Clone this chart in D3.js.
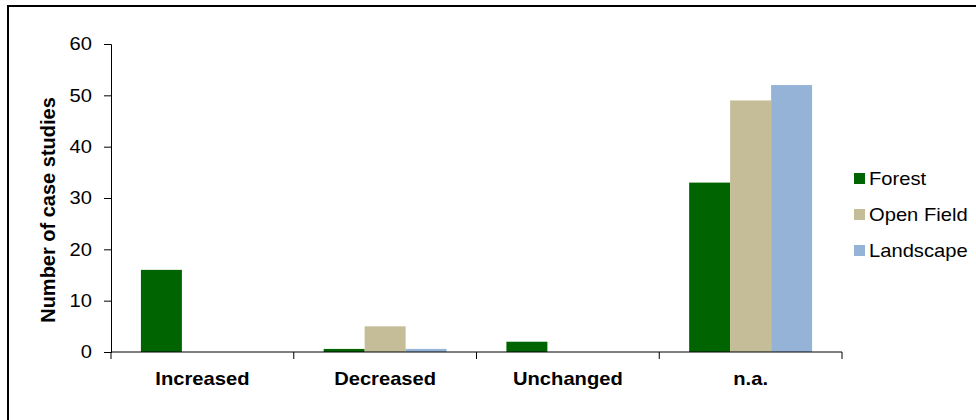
<!DOCTYPE html>
<html>
<head>
<meta charset="utf-8">
<script src="https://cdn.jsdelivr.net/npm/d3@7"></script>
<style>
  html, body { margin: 0; padding: 0; background: #fff; }
  svg { display: block; }
  text { font-family: Arial, "Liberation Sans", sans-serif; fill: #000; }
</style>
</head>
<body>
<svg id="chart" width="976" height="420"></svg>
<script>
// Outcome categories and case-study counts per setting
const categories = ["Increased", "Decreased", "Unchanged", "n.a."];
const seriesNames = ["Forest", "Open Field", "Landscape"];
const forest = [16, 0.6, 2, 33];
const openField = [0, 5, 0, 49];
const landscape = [0, 0.6, 0, 52];
const yTicks = [0, 10, 20, 30, 40, 50, 60];
const colors = ["#006400", "#C4BD97", "#95B3D7"];

const seriesValues = [forest, openField, landscape];

const svg = d3.select("#chart");
const W = 976, H = 420;
const plot = { left: 111, right: 842, top: 44, bottom: 352 };
const stretch = 1.12; // horizontal widening of text glyphs

// frame
svg.append("path")
  .attr("d", `M8,${H} L8,6 L${W},6`)
  .attr("fill", "none").attr("stroke", "#000").attr("stroke-width", 2);

const x = d3.scaleBand().domain(categories).range([plot.left, plot.right]).paddingInner(0).paddingOuter(0);
const xs = d3.scaleBand().domain(seriesNames).range([0, x.bandwidth()]).paddingInner(0).paddingOuter(0.73);
const y = d3.scaleLinear().domain([0, 60]).range([plot.bottom, plot.top]);

// bars
const groups = svg.append("g").selectAll("g")
  .data(categories)
  .join("g")
  .attr("transform", d => `translate(${x(d)},0)`);

groups.selectAll("rect")
  .data((c, i) => seriesNames.map((s, j) => ({ s, j, v: seriesValues[j][i] })))
  .join("rect")
  .attr("x", d => xs(d.s))
  .attr("width", xs.bandwidth())
  .attr("y", d => y(d.v))
  .attr("height", d => y(0) - y(d.v))
  .attr("fill", d => colors[d.j]);

// y axis
const yAxis = svg.append("g")
  .attr("transform", `translate(${plot.left},0)`)
  .call(d3.axisLeft(y).tickValues(yTicks).tickSize(7).tickPadding(12).tickFormat(d3.format("d")));
yAxis.select(".domain").attr("stroke", "#000").attr("stroke-width", 1);
yAxis.selectAll(".tick line").attr("stroke", "#000");
yAxis.selectAll(".tick text")
  .attr("font-size", 18)
  .attr("font-family", "Arial, 'Liberation Sans', sans-serif")
  .attr("fill", "#000")
  .each(function () {
    const t = d3.select(this);
    const xx = +t.attr("x");
    t.attr("x", null).attr("transform", `translate(${xx},0) scale(${stretch},1)`);
  });

// x axis with ticks at category boundaries
const xAxisG = svg.append("g");
xAxisG.append("line")
  .attr("x1", plot.left).attr("x2", plot.right)
  .attr("y1", y(0)).attr("y2", y(0))
  .attr("stroke", "#000");
const boundaries = categories.map(c => x(c)).concat([x(categories[categories.length - 1]) + x.bandwidth()]);
xAxisG.selectAll("line.tk")
  .data(boundaries)
  .join("line")
  .attr("class", "tk")
  .attr("x1", d => d).attr("x2", d => d)
  .attr("y1", y(0)).attr("y2", y(0) + 7)
  .attr("stroke", "#000");
xAxisG.selectAll("text")
  .data(categories)
  .join("text")
  .attr("transform", d => `translate(${x(d) + x.bandwidth() / 2},385) scale(${stretch},1)`)
  .attr("text-anchor", "middle")
  .attr("font-size", 18)
  .attr("font-weight", "bold")
  .text(d => d);

// y axis title
svg.append("text")
  .attr("transform", "translate(55,210) rotate(-90)")
  .attr("text-anchor", "middle")
  .attr("font-size", 20)
  .attr("font-weight", "bold")
  .text("Number of case studies");

// legend
const legend = svg.append("g").selectAll("g")
  .data(seriesNames)
  .join("g")
  .attr("transform", (d, i) => `translate(854,${173 + i * 36})`);
legend.append("rect")
  .attr("width", 11).attr("height", 11)
  .attr("fill", (d, i) => colors[i]);
legend.append("text")
  .attr("transform", `translate(15,12) scale(${stretch},1)`)
  .attr("font-size", 18)
  .text(d => d);
</script>
</body>
</html>
